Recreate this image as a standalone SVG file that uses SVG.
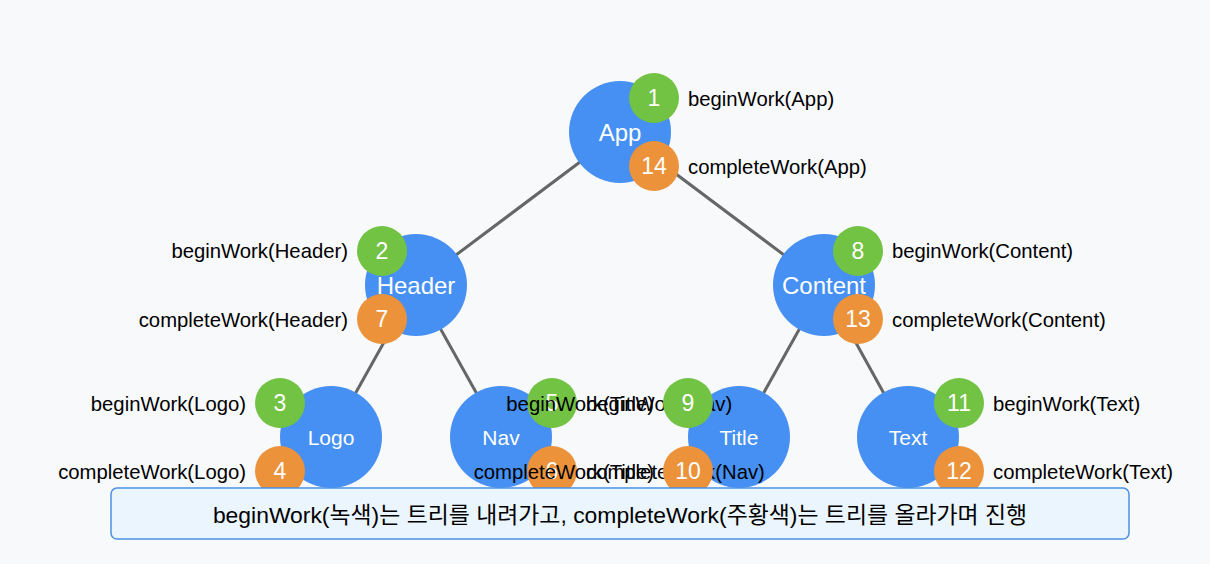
<svg xmlns="http://www.w3.org/2000/svg" width="1210" height="564" viewBox="0 0 1210 564">
<style>
.edge{stroke:#666;stroke-width:3;fill:none}
.node{fill:#4590f2}
.nm{fill:#fff;font-family:"Liberation Sans",Arial,sans-serif;text-anchor:middle;dominant-baseline:central}
.nm1{font-size:24px}
.nm2{font-size:21px}
.bg{fill:#72c244}
.co{fill:#eb923b}
.num{fill:#fff;font-family:"Liberation Sans",Arial,sans-serif;font-size:23px;text-anchor:middle;dominant-baseline:central}
.lbl{fill:#000;font-family:"Liberation Sans",Arial,sans-serif;font-size:20.3px;dominant-baseline:central}
.l{text-anchor:end}
.r{text-anchor:start}
.cap{fill:#000;font-family:"Liberation Sans","Noto Sans CJK KR",sans-serif;font-size:22.9px;text-anchor:middle;dominant-baseline:central}
</style>
<rect width="1210" height="564" fill="#f8f9fb"/>
<g id="connectors">
<line class="edge" x1="620" y1="132" x2="416" y2="285"/>
<line class="edge" x1="620" y1="132" x2="824" y2="285"/>
<line class="edge" x1="416" y1="285" x2="331" y2="437"/>
<line class="edge" x1="416" y1="285" x2="501" y2="437"/>
<line class="edge" x1="824" y1="285" x2="739" y2="437"/>
<line class="edge" x1="824" y1="285" x2="908" y2="437"/>
</g>
<g id="node-app"><circle class="node" cx="620" cy="132" r="51"/><text class="nm nm1" x="620" y="132">App</text></g>
<g id="node-header"><circle class="node" cx="416" cy="285" r="51"/><text class="nm nm1" x="416" y="285">Header</text></g>
<g id="node-content"><circle class="node" cx="824" cy="285" r="51"/><text class="nm nm1" x="824" y="285">Content</text></g>
<g id="node-logo"><circle class="node" cx="331" cy="437" r="51"/><text class="nm nm2" x="331" y="437">Logo</text></g>
<g id="node-nav"><circle class="node" cx="501" cy="437" r="51"/><text class="nm nm2" x="501" y="437">Nav</text></g>
<g id="node-title"><circle class="node" cx="739" cy="437" r="51"/><text class="nm nm2" x="739" y="437">Title</text></g>
<g id="node-text"><circle class="node" cx="908" cy="437" r="51"/><text class="nm nm2" x="908" y="437">Text</text></g>
<g id="steps-app">
<text class="lbl r" x="688" y="99">beginWork(App)</text>
<text class="lbl r" x="688" y="167">completeWork(App)</text>
<circle class="bg" cx="654" cy="98" r="25"/><text class="num" x="654" y="98">1</text>
<circle class="co" cx="654" cy="166" r="25"/><text class="num" x="654" y="166">14</text>
</g>
<g id="steps-header">
<text class="lbl l" x="348" y="251">beginWork(Header)</text>
<text class="lbl l" x="348" y="320">completeWork(Header)</text>
<circle class="bg" cx="382" cy="251" r="25"/><text class="num" x="382" y="251">2</text>
<circle class="co" cx="382" cy="319" r="25"/><text class="num" x="382" y="319">7</text>
</g>
<g id="steps-content">
<text class="lbl r" x="892" y="251">beginWork(Content)</text>
<text class="lbl r" x="892" y="320">completeWork(Content)</text>
<circle class="bg" cx="858" cy="251" r="25"/><text class="num" x="858" y="251">8</text>
<circle class="co" cx="858" cy="319" r="25"/><text class="num" x="858" y="319">13</text>
</g>
<g id="steps-logo">
<text class="lbl l" x="246" y="404">beginWork(Logo)</text>
<text class="lbl l" x="246" y="472">completeWork(Logo)</text>
<circle class="bg" cx="280" cy="403" r="25"/><text class="num" x="280" y="403">3</text>
<circle class="co" cx="280" cy="471" r="25"/><text class="num" x="280" y="471">4</text>
</g>
<g id="steps-nav">
<text class="lbl r" x="586" y="404">beginWork(Nav)</text>
<text class="lbl r" x="586" y="472">completeWork(Nav)</text>
<circle class="bg" cx="552" cy="403" r="25"/><text class="num" x="552" y="403">5</text>
<circle class="co" cx="552" cy="471" r="25"/><text class="num" x="552" y="471">6</text>
</g>
<g id="steps-title">
<text class="lbl l" x="654" y="404">beginWork(Title)</text>
<text class="lbl l" x="654" y="472">completeWork(Title)</text>
<circle class="bg" cx="688" cy="403" r="25"/><text class="num" x="688" y="403">9</text>
<circle class="co" cx="688" cy="471" r="25"/><text class="num" x="688" y="471">10</text>
</g>
<g id="steps-text">
<text class="lbl r" x="993" y="404">beginWork(Text)</text>
<text class="lbl r" x="993" y="472">completeWork(Text)</text>
<circle class="bg" cx="959" cy="403" r="25"/><text class="num" x="959" y="403">11</text>
<circle class="co" cx="959" cy="471" r="25"/><text class="num" x="959" y="471">12</text>
</g>
<g id="caption">
<rect x="111" y="488" width="1018" height="51" rx="6" fill="#eaf5fd" stroke="#4a90e2" stroke-width="1.5"/>
<text class="cap" x="620" y="515">beginWork(녹색)는 트리를 내려가고, completeWork(주황색)는 트리를 올라가며 진행</text>
</g>
</svg>
